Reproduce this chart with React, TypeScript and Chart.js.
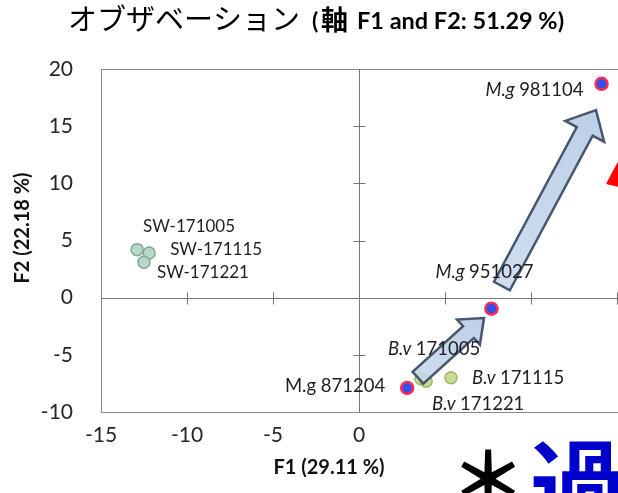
import React, { useEffect, useRef } from "react";
import { Chart, registerables } from "chart.js";

Chart.register(...registerables);

// ---- data ----
const xMin = -15;
const xMax = 20;
const yMin = -10;
const yMax = 20;
const tickStep = 5;

const swNames = ["SW-171005", "SW-171115", "SW-171221"];
const swX = [-12.9, -12.2, -12.5];
const swY = [4.2, 3.9, 3.1];

const bvPrefix = "B.v";
const bvNames = ["171005", "171115", "171221"];
const bvX = [3.6, 5.35, 3.9];
const bvY = [-7.1, -7.0, -7.3];

const mgPrefix = "M.g";
const mgNames = ["981104", "951027", "871204"];
const mgX = [14.1, 7.7, 2.8];
const mgY = [18.7, -0.96, -7.9];

// arrows: tail and tip in data units
const arrowFrom = [
  [3.43, -7.0],
  [8.31, 1.02],
];
const arrowTo = [
  [7.27, -1.78],
  [13.78, 16.4],
];

const titleJa = "オブザベーション";
const titleAxis = "軸";
const titleRest = "F1 and F2: 51.29 %)";
const xTitle = "F1 (29.11 %)";
const yTitle = "F2 (22.18 %)";
const noteStar = "＊";
const noteKanji = "過";

// ---- styling of labels (offsets in px, alignment, italic prefix) ----
const swLabelStyle = [
  { dx: 6, dy: -23, align: "left" },
  { dx: 21, dy: -4, align: "left" },
  { dx: 13, dy: 10, align: "left" },
];
const bvLabelStyle = [
  { dx: -33, dy: -30, align: "left" },
  { dx: 21, dy: 0, align: "left" },
  { dx: 6, dy: 23, align: "left" },
];
const mgLabelStyle = [
  { dx: -18, dy: 6, align: "right", italic: true },
  { dx: -56, dy: -37, align: "left", italic: true },
  { dx: -22, dy: -2, align: "right", italic: false },
];
const arrowShape = [
  { sw: 8, hw: 17, hl: 21 },
  { sw: 9, hw: 22, hl: 24 },
];

const SW_LABEL_SIZE = 17;
const LABEL_SIZE = 18.5;
const LATO = "Lato, 'Noto Sans', sans-serif";
const CJK = "'Noto Sans CJK JP', sans-serif";

function drawArrow(ctx: CanvasRenderingContext2D, tx: number, ty: number, px: number, py: number, s: { sw: number; hw: number; hl: number }) {
  const len = Math.hypot(px - tx, py - ty);
  const ux = (px - tx) / len;
  const uy = (py - ty) / len;
  const nx = -uy;
  const ny = ux;
  const bx = px - ux * s.hl;
  const by = py - uy * s.hl;
  ctx.beginPath();
  ctx.moveTo(tx + nx * s.sw, ty + ny * s.sw);
  ctx.lineTo(bx + nx * s.sw, by + ny * s.sw);
  ctx.lineTo(bx + nx * s.hw, by + ny * s.hw);
  ctx.lineTo(px, py);
  ctx.lineTo(bx - nx * s.hw, by - ny * s.hw);
  ctx.lineTo(bx - nx * s.sw, by - ny * s.sw);
  ctx.lineTo(tx - nx * s.sw, ty - ny * s.sw);
  ctx.closePath();
  const g = ctx.createLinearGradient(tx, ty, px, py);
  g.addColorStop(0, "rgba(200,216,236,0.88)");
  g.addColorStop(1, "rgba(184,204,230,0.92)");
  ctx.fillStyle = g;
  ctx.fill();
  ctx.lineJoin = "miter";
  ctx.lineWidth = 2.5;
  ctx.strokeStyle = "#46566f";
  ctx.stroke();
}

function drawLabel(ctx: CanvasRenderingContext2D, x: number, y: number, prefix: string, italic: boolean, text: string, align: string, size: number) {
  ctx.textBaseline = "middle";
  ctx.textAlign = "left";
  const pf = (italic ? "italic " : "") + size + "px " + LATO;
  const nf = size + "px " + LATO;
  ctx.font = pf;
  const pw = prefix ? ctx.measureText(prefix + " ").width : 0;
  ctx.font = nf;
  const tw = ctx.measureText(text).width;
  let sx = align === "right" ? x - pw - tw : x;
  ctx.fillStyle = "#1e1e24";
  if (prefix) {
    ctx.font = pf;
    ctx.fillText(prefix + " ", sx, y);
    sx += pw;
  }
  ctx.font = nf;
  ctx.fillText(text, sx, y);
}

const overlay = {
  id: "overlay",
  beforeDatasetsDraw(chart: any) {
    const { ctx, chartArea: a, scales } = chart;
    const x = scales.x;
    const y = scales.y;
    ctx.save();
    ctx.strokeStyle = "#8a8a8a";
    ctx.lineWidth = 1;
    ctx.strokeRect(Math.round(a.left) + 0.5, Math.round(a.top) + 0.5, Math.round(a.right - a.left), Math.round(a.bottom - a.top));
    const x0 = Math.round(x.getPixelForValue(0)) + 0.5;
    const y0 = Math.round(y.getPixelForValue(0)) + 0.5;
    ctx.strokeStyle = "#767676";
    ctx.beginPath();
    ctx.moveTo(x0, a.top);
    ctx.lineTo(x0, a.bottom);
    ctx.moveTo(a.left, y0);
    ctx.lineTo(a.right, y0);
    x.ticks.forEach((t: any) => {
      if (t.value === 0 || t.value === xMin || t.value === xMax) return;
      const p = Math.round(x.getPixelForValue(t.value)) + 0.5;
      ctx.moveTo(p, y0 - 6);
      ctx.lineTo(p, y0 + 6);
    });
    y.ticks.forEach((t: any) => {
      if (t.value === 0 || t.value === yMin || t.value === yMax) return;
      const p = Math.round(y.getPixelForValue(t.value)) + 0.5;
      ctx.moveTo(x0 - 6, p);
      ctx.lineTo(x0 + 6, p);
    });
    ctx.stroke();
    ctx.restore();
  },
  afterDatasetsDraw(chart: any) {
    const { ctx, scales } = chart;
    const x = scales.x;
    const y = scales.y;
    ctx.save();
    arrowFrom.forEach((f, i) => {
      const t = arrowTo[i];
      drawArrow(ctx, x.getPixelForValue(f[0]), y.getPixelForValue(f[1]), x.getPixelForValue(t[0]), y.getPixelForValue(t[1]), arrowShape[i]);
    });
    const metaSw = chart.getDatasetMeta(0).data;
    const metaBv = chart.getDatasetMeta(1).data;
    const metaMg = chart.getDatasetMeta(2).data;
    swNames.forEach((n, i) => {
      const p = metaSw[i];
      const s = swLabelStyle[i];
      drawLabel(ctx, p.x + s.dx, p.y + s.dy, "", false, n, s.align, SW_LABEL_SIZE);
    });
    bvNames.forEach((n, i) => {
      const p = metaBv[i];
      const s = bvLabelStyle[i];
      drawLabel(ctx, p.x + s.dx, p.y + s.dy, bvPrefix, true, n, s.align, LABEL_SIZE);
    });
    mgNames.forEach((n, i) => {
      const p = metaMg[i];
      const s = mgLabelStyle[i];
      drawLabel(ctx, p.x + s.dx, p.y + s.dy, mgPrefix, !!s.italic, n, s.align, LABEL_SIZE);
    });
    ctx.restore();
  },
  afterDraw(chart: any) {
    const { ctx } = chart;
    ctx.save();
    // title
    ctx.fillStyle = "#000";
    ctx.textBaseline = "alphabetic";
    ctx.textAlign = "left";
    ctx.font = "29px " + CJK;
    ctx.fillText(titleJa, 68, 30);
    ctx.font = "bold 23px " + LATO;
    ctx.fillText("(", 312, 29);
    ctx.font = "bold 27px " + CJK;
    ctx.fillText(titleAxis, 321, 30);
    ctx.font = "bold 23.5px " + LATO;
    ctx.fillText(titleRest, 357, 29);
    // axis titles
    ctx.font = "bold 20px " + LATO;
    ctx.textAlign = "center";
    ctx.textBaseline = "middle";
    ctx.fillStyle = "#111";
    ctx.fillText(xTitle, 329, 468);
    ctx.save();
    ctx.translate(23, 228);
    ctx.rotate(-Math.PI / 2);
    ctx.fillText(yTitle, 0, 0);
    ctx.restore();
    // red arrow tip (partially visible)
    ctx.fillStyle = "#ff0000";
    ctx.beginPath();
    ctx.moveTo(606, 184);
    ctx.lineTo(622, 154);
    ctx.lineTo(632, 190);
    ctx.closePath();
    ctx.fill();
    // note text
    ctx.textAlign = "left";
    ctx.textBaseline = "alphabetic";
    ctx.fillStyle = "#000";
    ctx.font = "bold 76px " + CJK;
    ctx.fillText(noteStar, 450, 508);
    ctx.fillStyle = "#0000cc";
    ctx.font = "bold 96px " + CJK;
    ctx.fillText(noteKanji, 530, 520);
    ctx.restore();
  },
};

export default function App() {
  const ref = useRef<HTMLCanvasElement>(null);
  useEffect(() => {
    if (!ref.current) return;
    const chart = new Chart(ref.current, {
      type: "scatter",
      data: {
        datasets: [
          {
            label: "SW",
            data: swX.map((v, i) => ({ x: v, y: swY[i] })),
            backgroundColor: "rgba(178,212,192,0.9)",
            borderColor: "#7eaa92",
            borderWidth: 1.5,
            pointRadius: 6,
          },
          {
            label: "B.v",
            data: bvX.map((v, i) => ({ x: v, y: bvY[i] })),
            backgroundColor: "rgba(196,214,140,0.9)",
            borderColor: "#9cb860",
            borderWidth: 1.5,
            pointRadius: 6,
          },
          {
            label: "M.g",
            data: mgX.map((v, i) => ({ x: v, y: mgY[i] })),
            backgroundColor: "#3050f0",
            borderColor: "#ff2d55",
            borderWidth: 2.5,
            pointRadius: 6,
          },
        ],
      },
      options: {
        responsive: false,
        animation: false,
        devicePixelRatio: 1,
        layout: { padding: { top: 69, right: 17, left: 0, bottom: 0 } },
        plugins: { legend: { display: false }, tooltip: { enabled: false }, title: { display: false } },
        scales: {
          x: {
            type: "linear",
            min: xMin,
            max: xMax,
            ticks: {
              stepSize: tickStep,
              padding: 11,
              color: "#262626",
              font: { family: LATO, size: 21 },
              callback: (v: any) => (Number(v) > 0 ? "" : String(v)),
            },
            grid: { display: false, drawTicks: false },
            border: { display: false },
            afterFit: (s: any) => {
              s.height = 81;
            },
          },
          y: {
            type: "linear",
            min: yMin,
            max: yMax,
            ticks: { stepSize: tickStep, padding: 28, color: "#262626", font: { family: LATO, size: 21 } },
            grid: { display: false, drawTicks: false },
            border: { display: false },
            afterFit: (s: any) => {
              s.width = 101;
            },
          },
        },
      },
      plugins: [overlay],
    });
    const fonts = (document as any).fonts;
    if (fonts && fonts.load) {
      Promise.all([
        fonts.load("19px Lato"),
        fonts.load("bold 20px Lato"),
        fonts.load("italic 17px Lato"),
        fonts.load("30px 'Noto Sans CJK JP'"),
        fonts.load("bold 30px 'Noto Sans CJK JP'"),
      ])
        .then(() => chart.update())
        .catch(() => {});
    }
    return () => chart.destroy();
  }, []);
  return (
    <div style={{ position: "fixed", left: 0, top: 0, width: 618, height: 493, overflow: "hidden", background: "#fff" }}>
      <canvas ref={ref} width={720} height={493} style={{ position: "absolute", left: 0, top: 0, display: "block" }} />
    </div>
  );
}
